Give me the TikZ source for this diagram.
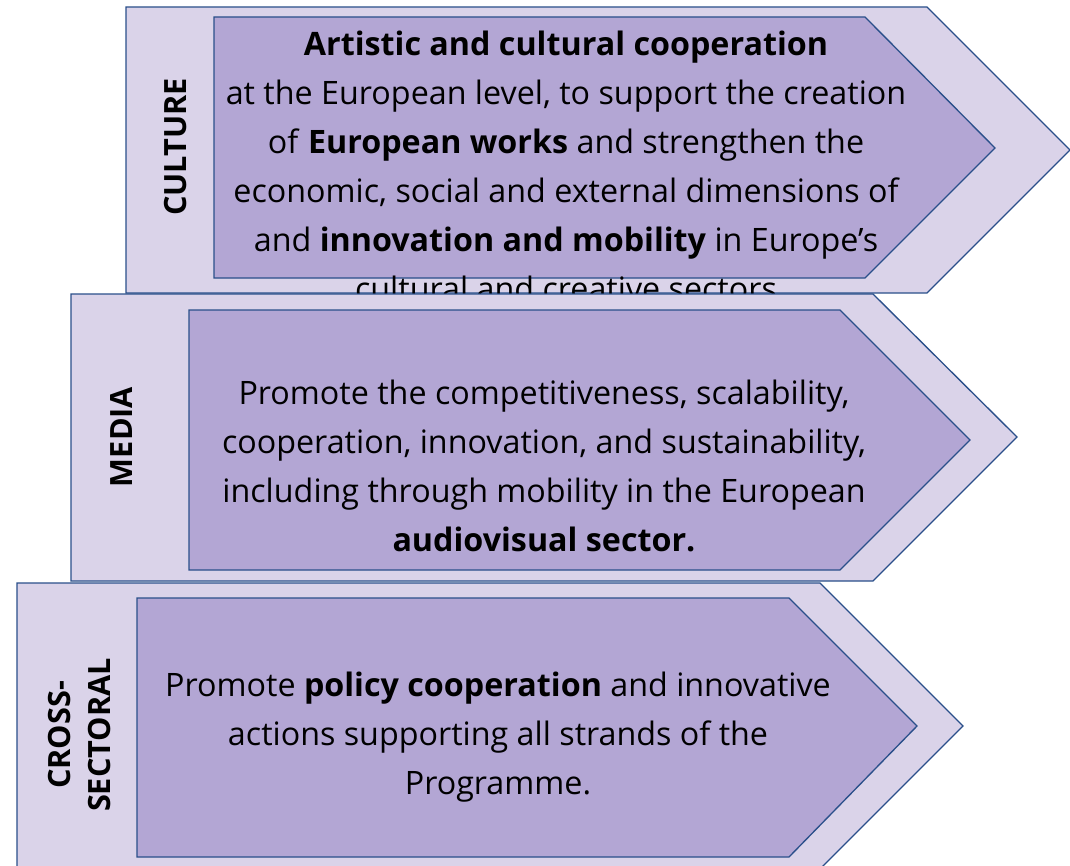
\documentclass[tikz,border=0pt]{standalone}
\usepackage{fontspec}
\setmainfont{Open Sans}
\definecolor{lightlav}{HTML}{DAD3E9}
\definecolor{darklav}{HTML}{B3A6D4}
\definecolor{edgeblue}{HTML}{2A4F8A}
\tikzset{
  outerarrow/.style={fill=lightlav,draw=edgeblue,line width=1pt},
  innerarrow/.style={fill=darklav,draw=edgeblue,line width=1pt},
  bodytext/.style={align=center,font=\fontsize{24.2}{36.75}\selectfont},
  strandlabel/.style={rotate=90,align=center,font=\bfseries\fontsize{23}{30}\selectfont}
}
\begin{document}
\begin{tikzpicture}[x=0.75pt,y=-0.75pt]
    \useasboundingbox (0,0) rectangle (1070,866);
    \clip (0,0) rectangle (1070,866);

    % culture
    \draw[outerarrow] (126,7) -- (927,7) -- (1070,150) -- (927,293) -- (126,293) -- cycle;
    \draw[innerarrow] (214,17) -- (865,17) -- (995,148) -- (865,278) -- (214,278) -- cycle;
    \node[bodytext] (CT) at (566,166) {\textbf{Artistic and cultural cooperation}\\
        at the European level, to support the creation\\
        of \textbf{European works} and strengthen the\\
        economic, social and external dimensions of\\
        and \textbf{innovation and mobility} in Europe’s\\
        cultural and creative sectors};
    \node[strandlabel] (CL) at (176,147) {CULTURE};

    % media
    \draw[outerarrow] (71,294) -- (873,294) -- (1017,437) -- (873,581) -- (71,581) -- cycle;
    \draw[innerarrow] (189,310) -- (840,310) -- (970,440) -- (840,570) -- (189,570) -- cycle;
    \node[bodytext] (MT) at (544,466) {Promote the competitiveness, scalability,\\
        cooperation, innovation, and sustainability,\\
        including through mobility in the European\\
        \textbf{audiovisual sector.}};
    \node[strandlabel] (ML) at (122,437) {MEDIA};

    % cross-sectoral
    \draw[outerarrow] (17,583) -- (820,583) -- (963,726) -- (820,869) -- (17,869) -- cycle;
    \draw[innerarrow] (137,598) -- (789,598) -- (917,726) -- (789,857) -- (137,857) -- cycle;
    \node[bodytext] (XT) at (498,737) {Promote \textbf{policy cooperation} and innovative\\
        actions supporting all strands of the\\
        Programme.};
    \node[strandlabel] (XL) at (80,735) {CROSS-\\SECTORAL};
\end{tikzpicture}
\end{document}
